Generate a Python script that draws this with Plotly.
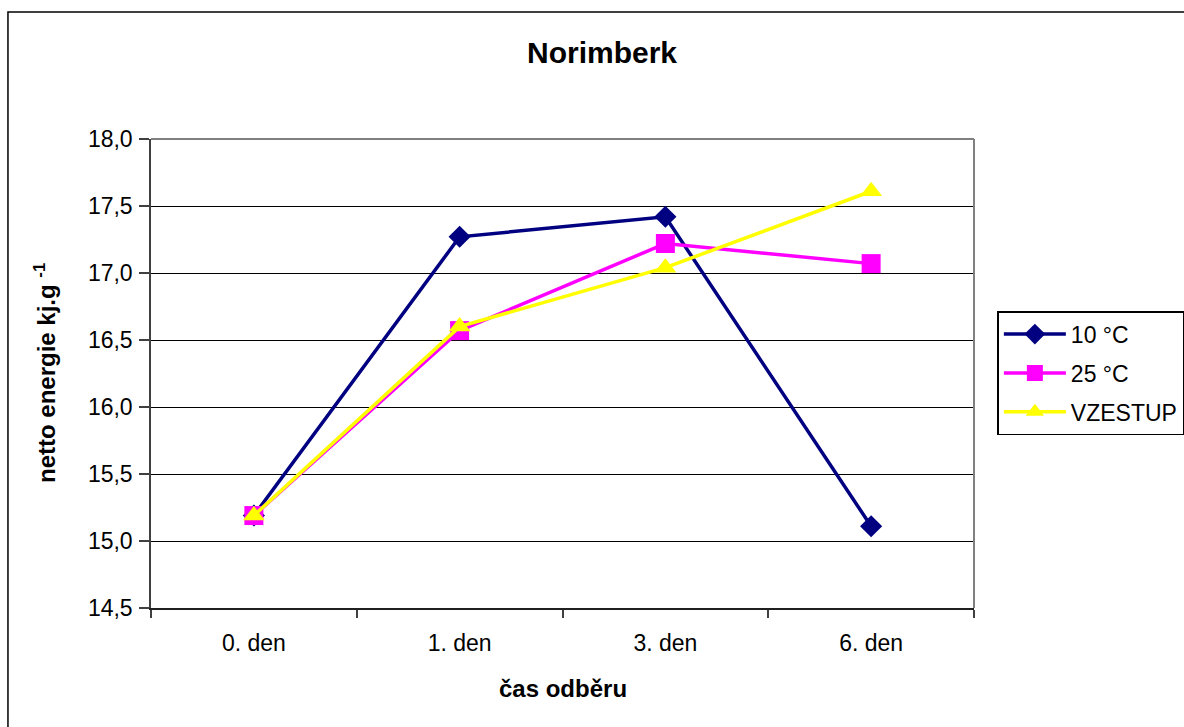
import plotly.graph_objects as go

# Sampling times and net energy values (kJ/g)
categories = ["0. den", "1. den", "3. den", "6. den"]
temp_10 = [15.19, 17.27, 17.42, 15.11]
temp_25 = [15.19, 16.57, 17.22, 17.07]
vzestup = [15.19, 16.60, 17.04, 17.61]
series_names = ["10 °C", "25 °C", "VZESTUP"]
y_ticks = [14.5, 15.0, 15.5, 16.0, 16.5, 17.0, 17.5, 18.0]

FONT = "Liberation Sans, Arial, sans-serif"

fig = go.Figure()

styles = [
    dict(color="#000080", symbol="diamond", size=17),
    dict(color="#FF00FF", symbol="square", size=19),
    dict(color="#FFFF00", symbol="triangle-up", size=19),
]
for name, vals, st in zip(series_names, [temp_10, temp_25, vzestup], styles):
    fig.add_trace(go.Scatter(
        x=categories, y=vals, name=name, mode="lines+markers",
        legendgroup=name,
        line=dict(color=st["color"], width=3.5),
        marker=dict(color=st["color"], symbol=st["symbol"], size=st["size"],
                    line=dict(width=0)),
    ))

fig.update_layout(
    width=1184, height=727,
    margin=dict(l=151, r=210, t=139, b=119, autoexpand=False),
    paper_bgcolor="white", plot_bgcolor="white",
    separators=", ",
    font=dict(family=FONT, size=23, color="black"),
    showlegend=True,
    legend=dict(
        x=1.0284, y=0.633, xanchor="left", yanchor="top",
        bordercolor="black", borderwidth=1.5, bgcolor="white",
        font=dict(family=FONT, size=23, color="black"),
        itemwidth=62, traceorder="grouped", tracegroupgap=6,
    ),
    xaxis=dict(
        type="category", categoryorder="array", categoryarray=categories,
        range=[-0.5, 3.5],
        tickson="boundaries", ticks="outside", ticklen=8, tickcolor="#404040",
        tickwidth=1.5, ticklabelstandoff=14,
        showline=True, linecolor="#202020", linewidth=1.5,
        showgrid=False, zeroline=False,
        tickfont=dict(family=FONT, size=23),
    ),
    yaxis=dict(
        range=[14.5, 18.0], tickvals=y_ticks, tickformat=".1f",
        ticks="outside", ticklen=10, tickcolor="#404040", tickwidth=1.5,
        ticklabelstandoff=2,
        showline=True, linecolor="#404040", linewidth=1.5,
        showgrid=True, gridcolor="#000000", gridwidth=1,
        zeroline=False,
        tickfont=dict(family=FONT, size=23),
    ),
    shapes=[
        # grey frame on the top and right of the plot area
        dict(type="line", xref="paper", yref="paper", x0=0, x1=1, y0=1, y1=1,
             line=dict(color="#808080", width=2)),
        dict(type="line", xref="paper", yref="paper", x0=1, x1=1, y0=0, y1=1,
             line=dict(color="#808080", width=2)),
        # outer chart border
        dict(type="rect", xref="paper", yref="paper",
             x0=-0.1738, x1=1.35, y0=-0.35, y1=1.2708,
             line=dict(color="black", width=1.5), layer="below"),
    ],
    annotations=[
        dict(text="<b>Norimberk</b>", xref="paper", yref="paper",
             x=0.548, y=1.1834, xanchor="center", yanchor="middle",
             showarrow=False, font=dict(family=FONT, size=30)),
        dict(text="<b>netto energie kj.g <sup>-1</sup></b>", xref="paper", yref="paper",
             x=-0.1288, y=0.501, xanchor="center", yanchor="middle",
             textangle=-90, showarrow=False, font=dict(family=FONT, size=24)),
        dict(text="<b>čas odběru</b>", xref="paper", yref="paper",
             x=0.5, y=-0.1706, xanchor="center", yanchor="middle",
             showarrow=False, font=dict(family=FONT, size=24)),
    ],
)

fig.write_html("out.html")
